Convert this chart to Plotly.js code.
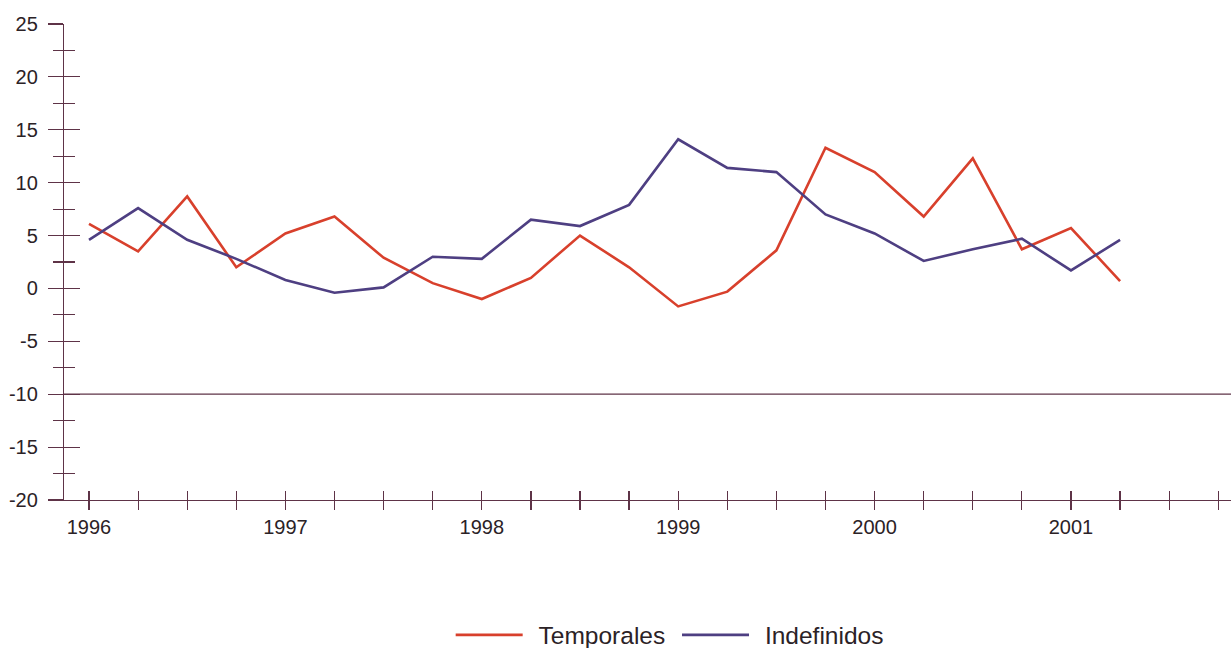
<!DOCTYPE html>
<html>
<head>
<meta charset="utf-8">
<script src="https://cdn.plot.ly/plotly-3.0.1.min.js"></script>
<style>html,body{margin:0;padding:0;background:#fff;}#chart{width:1231px;height:648px;}</style>
</head>
<body>
<div id="chart"></div>
<script>
// Quarterly periods (numeric year positions)
const quarters = [1996, 1996.25, 1996.5, 1996.75,
                  1997, 1997.25, 1997.5, 1997.75,
                  1998, 1998.25, 1998.5, 1998.75,
                  1999, 1999.25, 1999.5, 1999.75,
                  2000, 2000.25, 2000.5, 2000.75,
                  2001, 2001.25];
const temporales = [6.1, 3.5, 8.7, 2.0,
                    5.2, 6.8, 2.9, 0.5,
                    -1.0, 1.0, 5.0, 2.0,
                    -1.7, -0.3, 3.6, 13.3,
                    11.0, 6.8, 12.3, 3.7,
                    5.7, 0.7];
const indefinidos = [4.6, 7.6, 4.6, 2.8,
                     0.8, -0.4, 0.1, 3.0,
                     2.8, 6.5, 5.9, 7.9,
                     14.1, 11.4, 11.0, 7.0,
                     5.2, 2.6, 3.7, 4.7,
                     1.7, 4.6];
const yearTicks = [1996, 1997, 1998, 1999, 2000, 2001];
const yearLabels = ['1996', '1997', '1998', '1999', '2000', '2001'];
const yTicks = [-20, -15, -10, -5, 0, 5, 10, 15, 20, 25];
const yLabels = ['-20', '-15', '-10', '-5', '0', '5', '10', '15', '20', '25'];
const seriesNames = ['Temporales', 'Indefinidos'];
const refLineY = -10;

const axisColor = '#5e3347';
const textColor = '#2b2226';
const font = {family: 'Liberation Sans, Arial, sans-serif', size: 20, color: textColor};
const xRange = [1995.8727, 2001.8147];
const yRange = [-20, 25];
const LEAD = '\u00a0\u2006';

const traces = [
  {x: quarters, y: temporales, name: LEAD + seriesNames[0] + '\u00a0', type: 'scatter', mode: 'lines',
   line: {color: '#d8402c', width: 2.6}},
  {x: quarters, y: indefinidos, name: LEAD + seriesNames[1], type: 'scatter', mode: 'lines',
   line: {color: '#4e3f82', width: 2.6}}
];

const tw = 1.2;
const layout = {
  width: 1231, height: 648,
  margin: {l: 64, r: 0, t: 24, b: 148, autoexpand: false},
  paper_bgcolor: '#ffffff', plot_bgcolor: '#ffffff',
  font: font,
  showlegend: true,
  legend: {orientation: 'h', x: 0.519, xanchor: 'center', y: -0.2836, yanchor: 'middle',
           font: {family: font.family, size: 24.5, color: textColor}, itemwidth: 67, traceorder: 'normal'},
  xaxis: {range: xRange, showgrid: false, zeroline: false, showline: true, linecolor: axisColor, linewidth: tw,
          tickvals: yearTicks, ticktext: yearLabels, ticks: 'outside', ticklen: 9, tickcolor: axisColor, tickwidth: tw,
          minor: {dtick: 0.25, tick0: 1996, ticks: 'outside', ticklen: 9, tickcolor: axisColor, tickwidth: tw, showgrid: false},
          tickfont: font},
  xaxis2: {range: xRange, overlaying: 'x', showgrid: false, zeroline: false, showline: false,
           tickvals: yearTicks, ticktext: yearLabels, showticklabels: false, ticks: 'inside', ticklen: 9, tickcolor: axisColor, tickwidth: tw,
           minor: {dtick: 0.25, tick0: 1996, ticks: 'inside', ticklen: 9, tickcolor: axisColor, tickwidth: tw, showgrid: false}},
  yaxis: {range: yRange, showgrid: false, zeroline: false, showline: true, linecolor: axisColor, linewidth: tw,
          tickvals: yTicks, ticktext: yLabels, ticks: 'outside', ticklen: 15, tickcolor: axisColor, tickwidth: tw,
          ticklabelstandoff: 6,
          minor: {dtick: 2.5, tick0: 0, ticks: 'outside', ticklen: 10, tickcolor: axisColor, tickwidth: tw, showgrid: false},
          tickfont: font},
  yaxis2: {range: yRange, overlaying: 'y', showgrid: false, zeroline: false, showline: false, showticklabels: false,
           tickvals: yTicks, ticks: 'inside', ticklen: 16, tickcolor: axisColor, tickwidth: tw,
           minor: {dtick: 2.5, tick0: 0, ticks: 'inside', ticklen: 11, tickcolor: axisColor, tickwidth: tw, showgrid: false}},
  shapes: [
    {type: 'line', xref: 'paper', x0: 0, x1: 1, yref: 'y', y0: refLineY, y1: refLineY,
     line: {color: axisColor, width: tw}, layer: 'below'}
  ]
};

// Invisible trace to activate the overlay axes
traces.push({x: [xRange[0]], y: [yRange[0]], xaxis: 'x2', yaxis: 'y2', type: 'scatter', mode: 'markers',
             marker: {opacity: 0}, showlegend: false, hoverinfo: 'skip'});

Plotly.newPlot('chart', traces, layout, {displayModeBar: false, staticPlot: true});
</script>
</body>
</html>
